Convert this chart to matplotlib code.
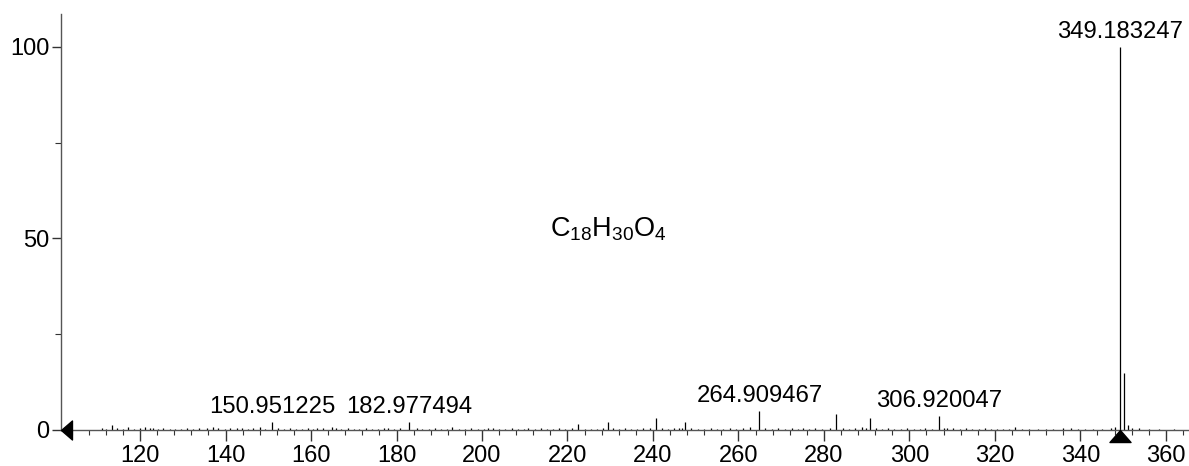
import numpy as np
import matplotlib
matplotlib.use('Agg')
import matplotlib.pyplot as plt
from matplotlib.ticker import MultipleLocator

plt.rcParams['font.family'] = ['Liberation Sans', 'DejaVu Sans']
plt.rcParams['mathtext.fontset'] = 'custom'
plt.rcParams['mathtext.rm'] = 'Liberation Sans'

# peak list (m/z, relative intensity)
mz = [111.1, 112.0, 113.4, 114.6, 116.0, 117.2, 118.5, 119.9, 121.2, 122.3,
      123.0, 124.1, 125.3, 126.9, 128.2, 129.6, 131.0, 132.4, 133.7, 135.7,
      137.1, 138.3, 139.8, 141.0, 142.7, 143.9, 145.2, 146.5, 148.1, 149.3,
      150.951225, 152.3, 153.6, 155.1, 156.4, 157.8, 159.2, 160.5, 161.4, 162.8,
      164.9, 165.8, 167.1, 168.6, 170.0, 171.3, 172.9, 174.2, 175.6, 177.0,
      178.0, 179.4, 180.8, 182.977494, 184.8, 186.0, 187.5, 189.0, 190.4, 191.8,
      193.0, 194.6, 196.0, 197.5, 199.0, 200.4, 201.5, 202.6, 204.0, 205.5,
      207.0, 208.4, 209.8, 210.8, 212.3, 213.8, 215.2, 216.6, 218.0, 219.5,
      221.0, 222.5, 224.0, 225.5, 227.0, 228.4, 229.5, 230.6, 232.0, 233.4,
      234.8, 236.3, 237.7, 239.2, 240.8, 242.2, 243.6, 245.0, 246.1, 246.8,
      247.6, 249.0, 250.5, 252.0, 253.5, 255.0, 256.5, 258.0, 259.5, 261.0,
      262.7, 264.909467, 266.3, 267.8, 269.2, 270.8, 272.5, 274.0, 275.1, 276.6,
      278.0, 279.5, 281.4, 282.9, 284.4, 285.8, 287.3, 288.9, 289.8, 290.9,
      292.2, 293.6, 295.0, 296.5, 298.0, 299.5, 301.0, 302.4, 303.7, 305.2,
      306.920047, 308.0, 308.9, 310.3, 311.8, 313.2, 314.7, 316.2, 317.8, 319.2,
      320.6, 322.0, 323.4, 324.8, 326.3, 328.0, 330.0, 332.0, 333.5, 335.9,
      337.7, 339.5, 341.0, 343.0, 345.0, 347.1, 348.0, 349.183247, 350.19, 351.1,
      352.2, 353.7, 356.0, 358.5, 362.0]
intensity = [0.5, 0.3, 1.2, 0.5, 0.3, 0.9, 0.3, 0.4, 0.8, 0.6,
             0.5, 0.3, 0.4, 0.3, 0.3, 0.3, 0.4, 0.3, 0.4, 0.6,
             0.8, 0.4, 0.3, 0.4, 0.6, 0.6, 0.3, 0.4, 0.7, 0.3,
             2.0, 0.5, 0.3, 0.4, 0.3, 0.3, 0.4, 0.3, 0.5, 0.4,
             0.8, 0.5, 0.3, 0.4, 0.3, 0.3, 0.4, 0.3, 0.3, 0.4,
             0.5, 0.3, 0.4, 2.0, 0.5, 0.3, 0.3, 0.4, 0.3, 0.3,
             0.8, 0.3, 0.3, 0.4, 0.3, 0.3, 0.4, 0.6, 0.3, 0.3,
             0.4, 0.3, 0.3, 0.4, 0.3, 0.4, 0.3, 0.3, 0.4, 0.3,
             0.5, 1.6, 0.3, 0.3, 0.3, 0.5, 2.2, 0.6, 0.3, 0.4,
             0.3, 0.3, 0.4, 0.5, 3.0, 0.4, 0.3, 0.4, 0.5, 0.6,
             2.2, 0.4, 0.3, 0.3, 0.4, 0.3, 0.3, 0.4, 0.3, 0.4,
             0.8, 5.0, 0.4, 0.3, 0.4, 0.3, 0.5, 0.3, 0.4, 0.3,
             0.4, 0.3, 0.6, 4.2, 0.4, 0.3, 0.4, 0.7, 0.5, 3.1,
             0.4, 0.3, 0.4, 0.3, 0.3, 0.4, 0.3, 0.3, 0.5, 0.3,
             3.6, 0.5, 0.6, 0.4, 0.3, 0.4, 0.3, 0.3, 0.4, 0.3,
             0.3, 0.3, 0.3, 0.8, 0.3, 0.3, 0.3, 0.3, 0.3, 0.4,
             0.6, 0.3, 0.3, 0.3, 0.3, 0.6, 0.9, 100.0, 15.0, 1.3,
             0.4, 0.4, 0.3, 0.3, 0.3]

# labelled peaks
label_mz = [150.951225, 182.977494, 264.909467, 306.920047, 349.183247]
label_int = [2.0, 2.0, 5.0, 3.6, 100.0]

formula = r'$\mathregular{C_{18}H_{30}O_{4}}$'
precursor_mz = 349.183247

fig = plt.figure(figsize=(11.89, 4.66), dpi=100)
ax = fig.add_axes([0.0513, 0.0773, 0.9479, 0.8927])

ax.vlines(mz, 0, intensity, color='black', lw=0.9)

for x, y in zip(label_mz, label_int):
    ax.annotate('%.6f' % x, (x, y), xytext=(0, 3), textcoords='offset points',
                ha='center', va='bottom', fontsize=17.2)

ax.text(229.6, 50.6, formula, ha='center', va='baseline', fontsize=19.5)

# markers on the baseline
left_tri = [(0, 0), (1.1, 0.95), (1.1, -0.95), (0, 0)]
up_tri = [(0, 0), (-1.05, -1.2), (1.05, -1.2), (0, 0)]
ax.plot([101.5], [0], marker=left_tri, ms=15.8, color='black', clip_on=False, zorder=5)
ax.plot([precursor_mz], [0], marker=up_tri, ms=17.3, color='black', clip_on=False, zorder=5)

ax.set_xlim(101.5, 365.2)
ax.set_ylim(0, 108.6)

for s in ['top', 'right']:
    ax.spines[s].set_visible(False)
for s in ['left', 'bottom']:
    ax.spines[s].set_color('#555555')
    ax.spines[s].set_linewidth(1.0)

ax.xaxis.set_major_locator(MultipleLocator(20))
ax.xaxis.set_minor_locator(MultipleLocator(4))
ax.yaxis.set_major_locator(MultipleLocator(50))
ax.yaxis.set_minor_locator(MultipleLocator(25))
ax.tick_params(axis='x', which='major', direction='out', length=8, width=1,
               color='#333333', labelsize=17, pad=3)
ax.tick_params(axis='x', which='minor', direction='out', length=3.6, width=0.8,
               color='#333333')
ax.tick_params(axis='y', which='major', direction='out', length=6.5, width=1,
               color='#333333', labelsize=17, pad=2)
ax.tick_params(axis='y', which='minor', direction='out', length=4.3, width=0.8,
               color='#333333')

fig.savefig('out.png', dpi=100)
